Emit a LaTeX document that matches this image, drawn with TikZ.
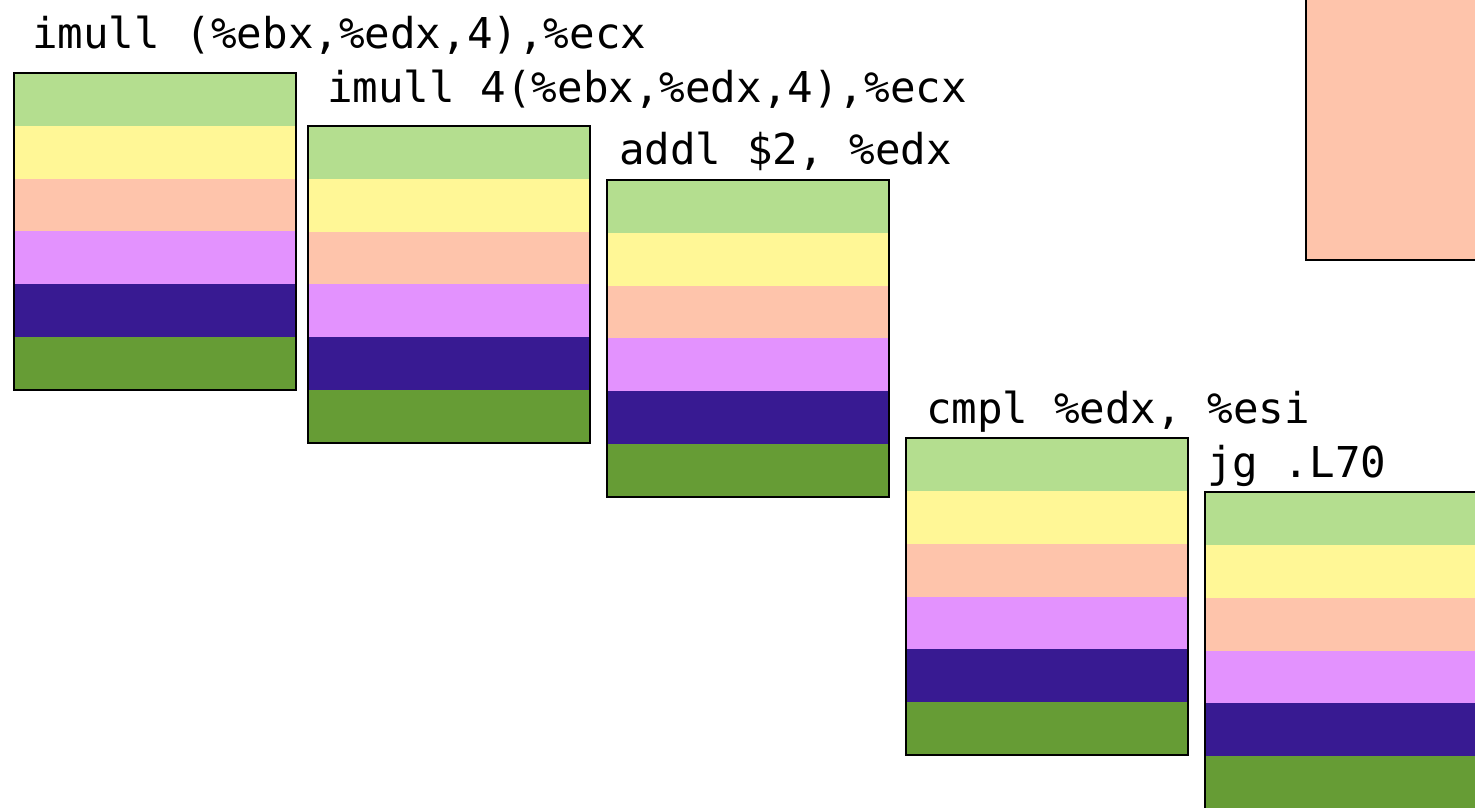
\documentclass[tikz,border=0pt]{standalone}
\usepackage{fontspec}
\setmonofont{DejaVu Sans Mono}
\definecolor{cA}{HTML}{B4DE8F}
\definecolor{cB}{HTML}{FFF796}
\definecolor{cC}{HTML}{FEC4AB}
\definecolor{cD}{HTML}{E392FE}
\definecolor{cE}{HTML}{381A92}
\definecolor{cF}{HTML}{669C35}
\tikzset{
  stackbox/.style={draw=black, line width=2.5pt, rectangle, inner sep=0pt, outer sep=0pt,
    minimum width=282pt, minimum height=317pt, anchor=north west,
    path picture={
      \foreach \c [count=\i from 0] in {cA,cB,cC,cD,cE,cF}
        \fill[\c] ([yshift=-\i*52.83pt]path picture bounding box.north west)
          rectangle ([yshift=-\i*52.83pt-52.83pt]path picture bounding box.north east);
    }},
  bigbox/.style={draw=black, fill=cC, line width=2.5pt, rectangle, inner sep=0pt, outer sep=0pt,
    minimum width=200pt, minimum height=290pt, anchor=south west},
  lbl/.style={font=\ttfamily\fontsize{42.5}{50}\selectfont, inner sep=0pt, anchor=base west}
}
\begin{document}
\begin{tikzpicture}[x=1pt,y=-1pt]
\useasboundingbox (0,0) rectangle (1475,807);
\clip (0,0) rectangle (1475,807);
\node[bigbox] (top) at (1306,260) {};
\node[stackbox] (s1) at (14,73) {};
\node[stackbox] (s2) at (308,126) {};
\node[stackbox] (s3) at (607,180) {};
\node[stackbox] (s4) at (906,438) {};
\node[stackbox] (s5) at (1205,492) {};
\node[lbl] (l1) at (32,48) {imull (\%ebx,\%edx,4),\%ecx};
\node[lbl] (l2) at (327,102) {imull 4(\%ebx,\%edx,4),\%ecx};
\node[lbl] (l3) at (619,164) {addl \$2, \%edx};
\node[lbl] (l4) at (926,423) {cmpl \%edx, \%esi};
\node[lbl] (l5) at (1207,477) {jg .L70};
\end{tikzpicture}
\end{document}
